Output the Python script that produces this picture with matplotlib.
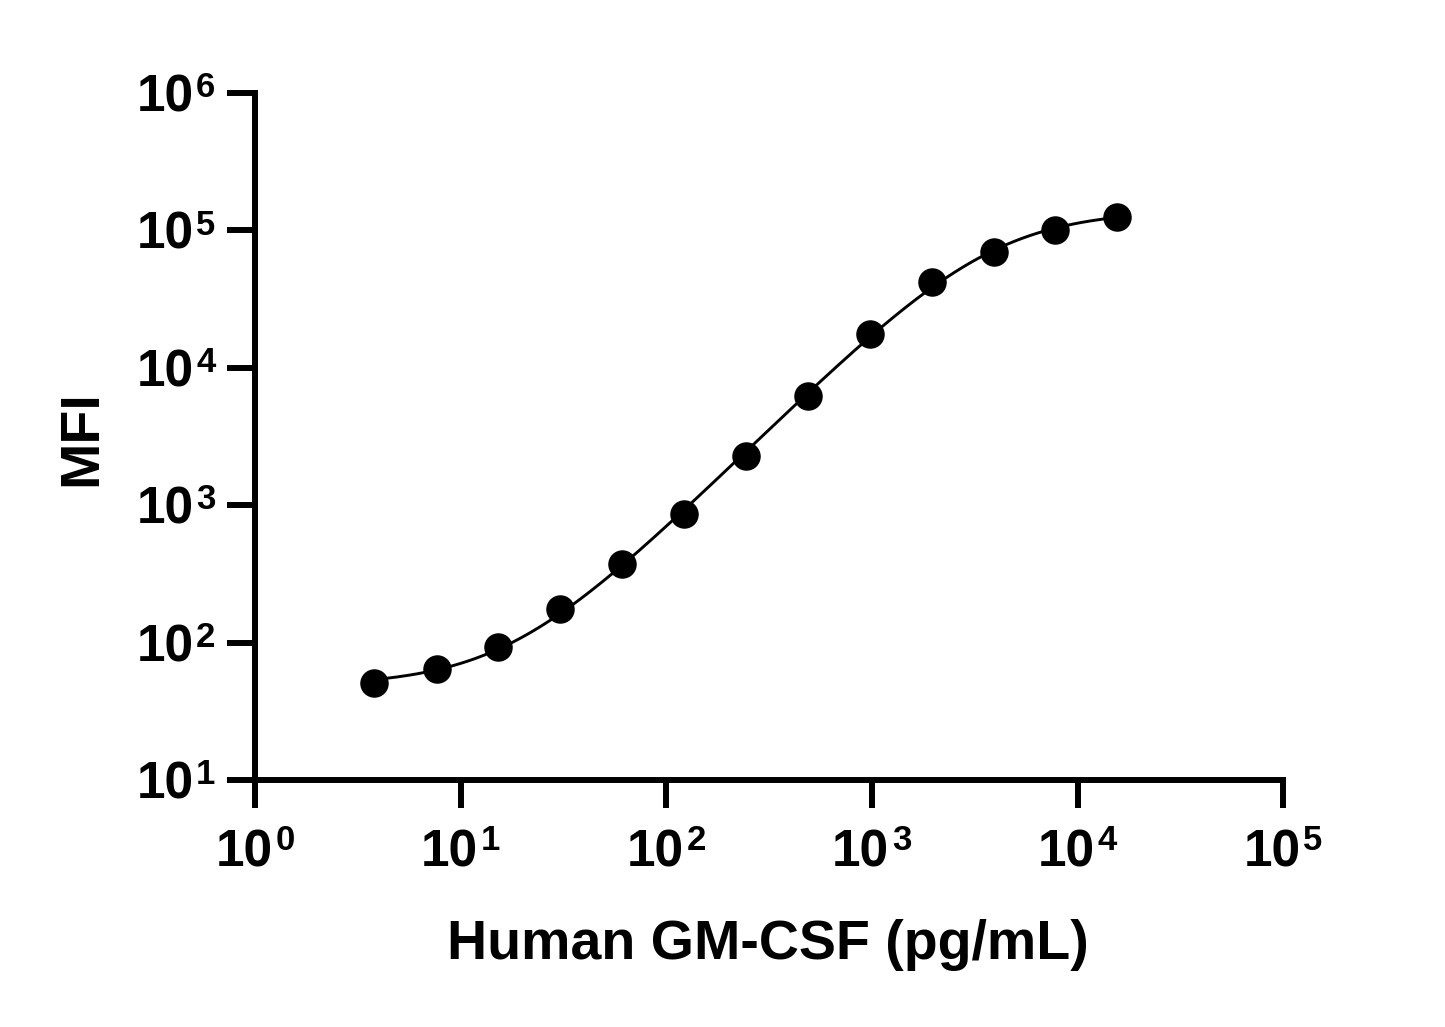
import numpy as np
import matplotlib
matplotlib.use("Agg")
import matplotlib.pyplot as plt
from matplotlib.ticker import LogLocator, NullLocator

plt.rcParams['font.family'] = ['Liberation Sans', 'DejaVu Sans']
plt.rcParams['font.weight'] = 'bold'

# GM-CSF standard curve (2-fold dilutions)
conc = np.array([3.81, 7.63, 15.26, 30.52, 61.04, 122.1, 244.1, 488.3,
                 976.6, 1953, 3906, 7813, 15625])
mfi = np.array([51, 64, 93, 176, 373, 863, 2280, 6240,
                17600, 42100, 69700, 100700, 125300])

x_decades = [0, 1, 2, 3, 4, 5]
y_decades = [1, 2, 3, 4, 5, 6]


def four_pl(x, lb, lt, lc, h):
    b, t = 10 ** lb, 10 ** lt
    return b + (t - b) / (1 + 10 ** ((lc - np.log10(x)) * h))


def fit_4pl(x, y):
    # coarse-to-fine grid search on log residuals
    lx, ly = np.log10(x), np.log10(y)
    center = np.array([ly.min() - 0.3, ly.max() + 0.2, np.median(lx), 1.2])
    span = np.array([0.6, 0.6, 1.5, 0.8])
    for _ in range(7):
        grids = [np.linspace(c - s, c + s, 15) for c, s in zip(center, span)]
        grids[3] = np.clip(grids[3], 0.2, None)
        B, T, C, H = np.meshgrid(*grids, indexing='ij')
        b, t = 10 ** B[..., None], 10 ** T[..., None]
        pred = b + (t - b) / (1 + 10 ** ((C[..., None] - lx) * H[..., None]))
        err = ((np.log10(pred) - ly) ** 2).sum(-1)
        idx = np.unravel_index(err.argmin(), err.shape)
        center = np.array([g[j] for g, j in zip(grids, idx)])
        span = span / 2.5
    return center


params = fit_4pl(conc, mfi)
xs = np.logspace(np.log10(conc.min()), np.log10(conc.max()), 400)

fig = plt.figure(figsize=(14.45, 10.27), dpi=100)
ax = fig.add_axes([0.1765, 0.2405, 0.7115, 0.669])

ax.plot(xs, four_pl(xs, *params), color='black', lw=2.1, zorder=2)
ax.plot(conc, mfi, 'o', color='black', markersize=19.5, zorder=3, clip_on=False)

ax.set_xscale('log')
ax.set_yscale('log')
ax.set_xlim(10 ** x_decades[0], 10 ** x_decades[-1])
ax.set_ylim(10 ** y_decades[0], 10 ** y_decades[-1])

for a in (ax.xaxis, ax.yaxis):
    a.set_major_locator(LogLocator(base=10, numticks=10))
    a.set_minor_locator(NullLocator())

for s in ('top', 'right'):
    ax.spines[s].set_visible(False)
for s in ('left', 'bottom'):
    ax.spines[s].set_linewidth(4.3)

ax.tick_params(axis='both', which='major', direction='out', length=20, width=4.3,
               color='black', labelbottom=False, labelleft=False)

# tick labels drawn as "10" plus a raised exponent, like the original
base_fs, exp_fs = 37, 25
for d in x_decades:
    kw = dict(xy=(10 ** d, 0), xycoords=ax.get_xaxis_transform(),
              textcoords='offset points', annotation_clip=False, va='baseline')
    ax.annotate('10', xytext=(12.5, -62.5), ha='right', fontsize=base_fs, **kw)
    ax.annotate(str(d), xytext=(14.5, -50.5), ha='left', fontsize=exp_fs, **kw)
for d in y_decades:
    kw = dict(xy=(0, 10 ** d), xycoords=ax.get_yaxis_transform(),
              textcoords='offset points', annotation_clip=False, va='baseline')
    ax.annotate('10', xytext=(-44, -13.3), ha='right', fontsize=base_fs, **kw)
    ax.annotate(str(d), xytext=(-42.5, -3), ha='left', fontsize=exp_fs, **kw)

fig.text(768 / 1445, 1 - 945 / 1027, 'Human GM-CSF (pg/mL)', fontsize=40,
         fontweight='bold', ha='center', va='center')
fig.text(82 / 1445, 1 - 438 / 1027, 'MFI', fontsize=40, fontweight='bold',
         ha='center', va='center', rotation=90)

fig.savefig('out.png', dpi=100)
